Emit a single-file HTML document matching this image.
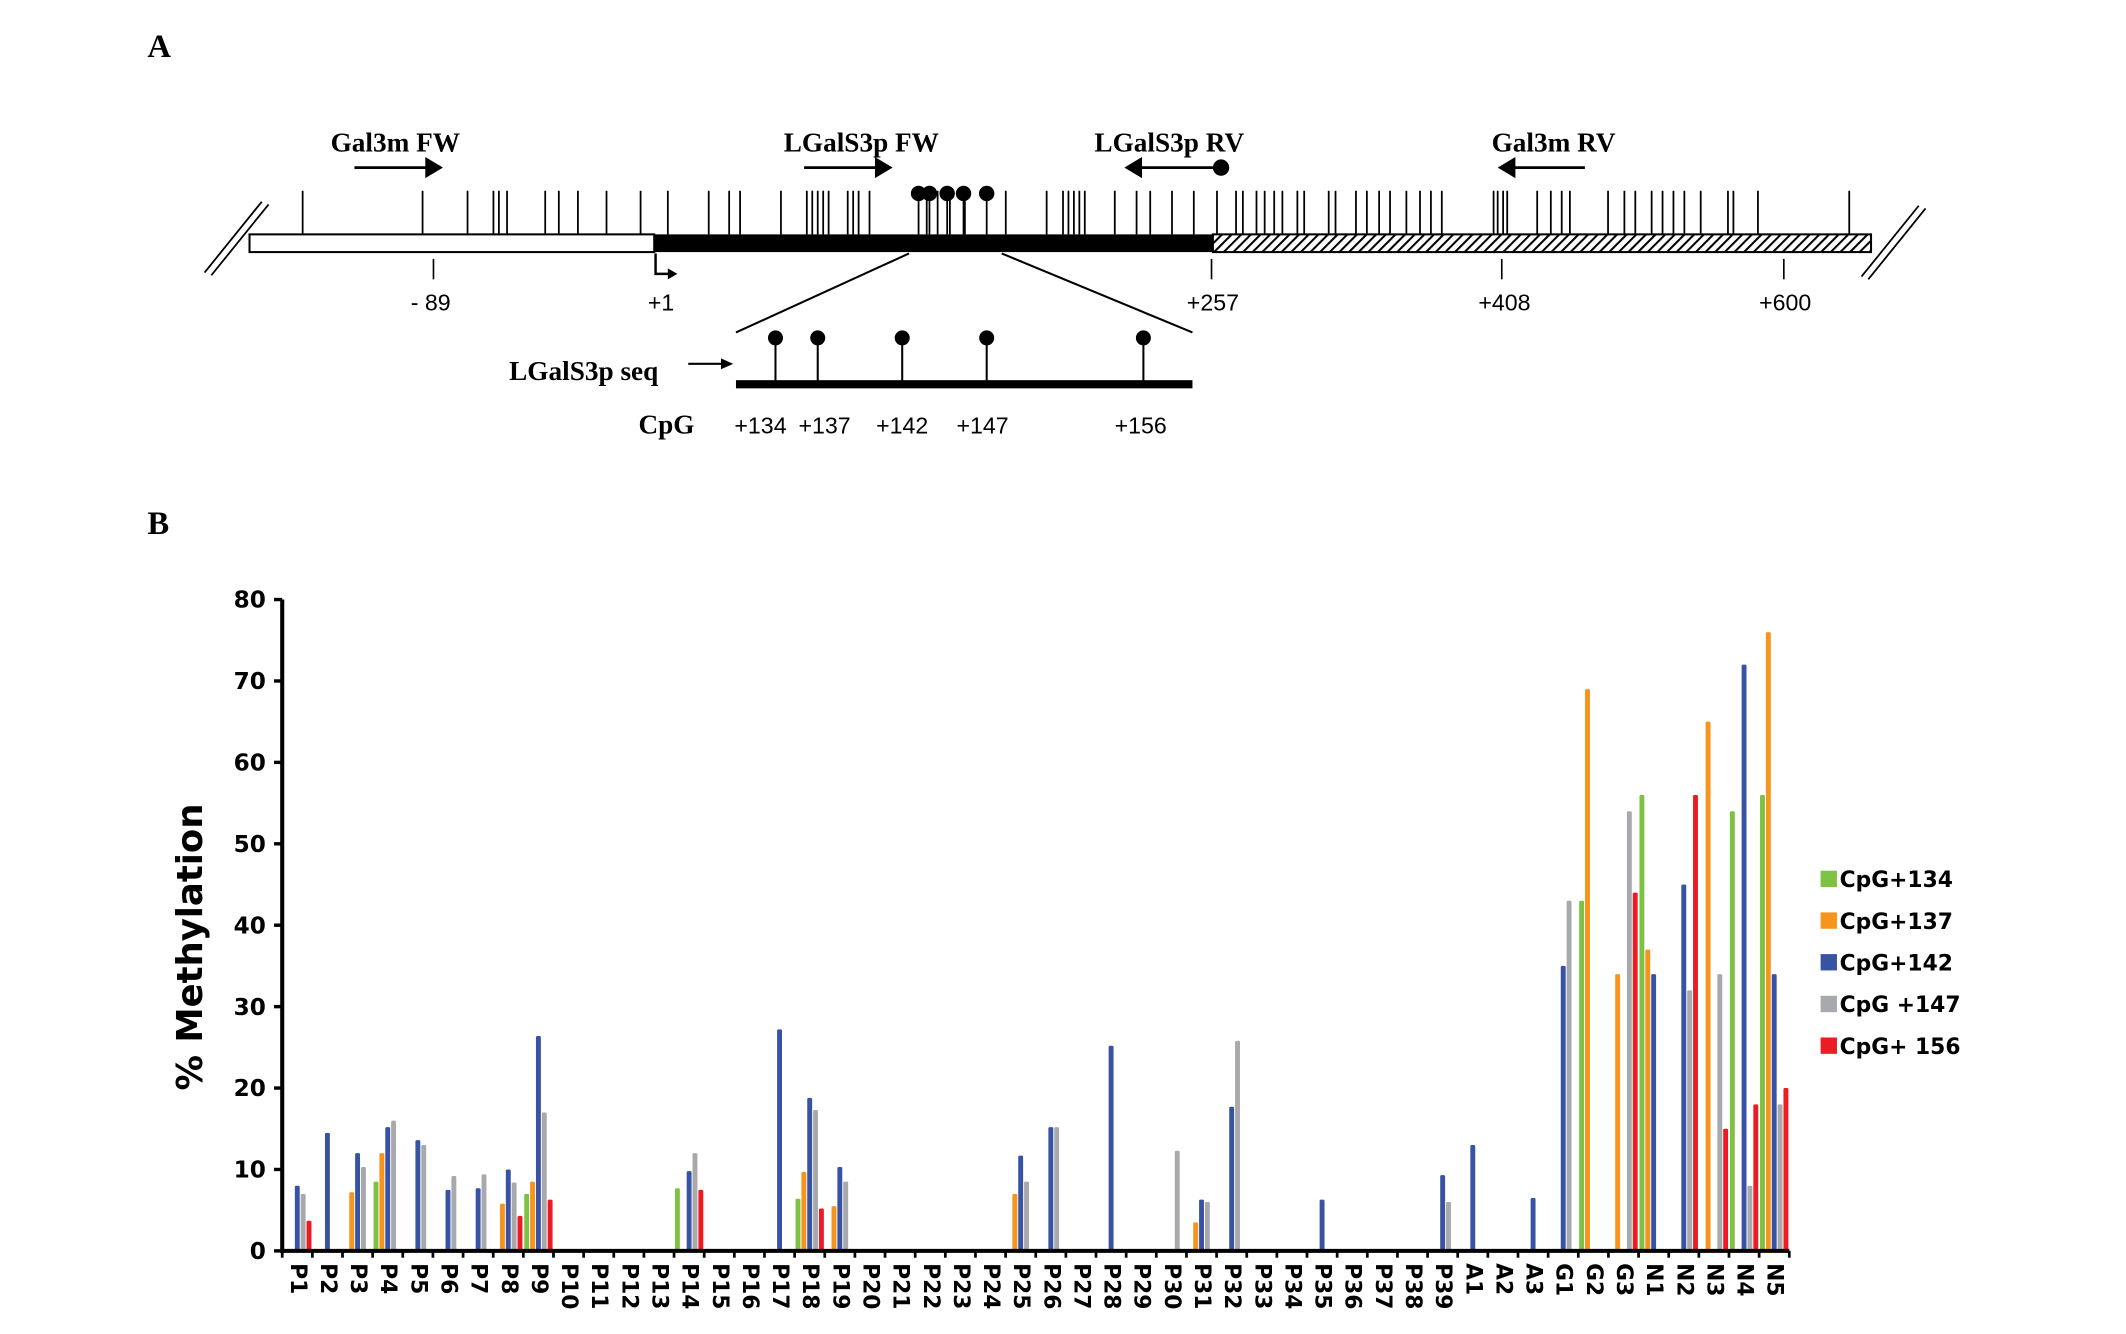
<!DOCTYPE html>
<html><head><meta charset="utf-8"><style>
html,body{margin:0;padding:0;background:#fff}
svg{display:block}
.serif{font-family:"Liberation Serif",serif;font-weight:bold}
.sans{font-family:"Liberation Sans",sans-serif}
.dj{font-family:"DejaVu Sans","Liberation Sans",sans-serif;font-weight:bold}
</style></head><body>
<svg id="fig" width="2126" height="1334" viewBox="0 0 1560 979" xmlns="http://www.w3.org/2000/svg">
<defs><pattern id="hatch" width="5" height="5" patternUnits="userSpaceOnUse" patternTransform="rotate(45)"><rect width="5" height="5" fill="#fff"/><line x1="0" y1="0" x2="0" y2="5" stroke="#000" stroke-width="3"/></pattern></defs>
<g id="panelA">
<text class="serif" x="108" y="42" font-size="24">A</text>
<text class="serif" x="290" y="111" font-size="20" text-anchor="middle">Gal3m FW</text>
<text class="serif" x="632" y="111" font-size="20" text-anchor="middle">LGalS3p FW</text>
<text class="serif" x="858" y="111" font-size="20" text-anchor="middle">LGalS3p RV</text>
<text class="serif" x="1140" y="111" font-size="20" text-anchor="middle">Gal3m RV</text>
<g stroke="#000" stroke-width="2" fill="#000">
<line x1="260" y1="123" x2="316" y2="123"/><polygon points="323,123 313,117 313,129"/>
<line x1="590" y1="123" x2="646" y2="123"/><polygon points="653,123 643,117 643,129"/>
<line x1="835" y1="123" x2="896" y2="123"/><polygon points="827,123 837,117 837,129"/><circle cx="896" cy="123" r="5"/>
<line x1="1110" y1="123" x2="1163" y2="123"/><polygon points="1101,123 1111,117 1111,129"/>
</g>
<g id="cpgTicks" stroke="#000" stroke-width="1.3"></g>
<rect x="183" y="172" width="297" height="13" fill="#fff" stroke="#000" stroke-width="1.5"/>
<rect x="480" y="172" width="410" height="13" fill="#000"/>
<rect x="890" y="172" width="483" height="13" fill="url(#hatch)" stroke="#000" stroke-width="1.5"/>
<g stroke="#000" stroke-width="1.3">
<line x1="150" y1="200" x2="192" y2="148"/><line x1="155" y1="202" x2="197" y2="150"/>
<line x1="1366" y1="203" x2="1408" y2="151"/><line x1="1371" y1="205" x2="1413" y2="153"/>
</g>
<g stroke="#000" stroke-width="1.2">
<line x1="318" y1="190" x2="318" y2="205"/><line x1="889" y1="190" x2="889" y2="205"/><line x1="1102" y1="190" x2="1102" y2="205"/><line x1="1309" y1="190" x2="1309" y2="205"/>
<polyline points="481,186 481,201 492,201" fill="none" stroke-width="1.8"/>
</g>
<polygon points="497,201 490,197 490,205" fill="#000"/>
<g class="sans" font-size="17" text-anchor="middle">
<text x="316" y="228">- 89</text><text x="485" y="228">+1</text><text x="890" y="228">+257</text><text x="1104" y="228">+408</text><text x="1310" y="228">+600</text>
</g>
<g stroke="#000" stroke-width="1.5"><line x1="667" y1="186" x2="540" y2="244"/><line x1="735" y1="186" x2="875" y2="244"/></g>
<rect x="540" y="279" width="335" height="6" fill="#000"/>
<g id="seqLolli"></g>
<text class="serif" x="483" y="279" font-size="20" text-anchor="end">LGalS3p seq</text>
<line x1="505" y1="267" x2="530" y2="267" stroke="#000" stroke-width="1.5"/><polygon points="538,267 529,263 529,271" fill="#000"/>
<text class="serif" x="489" y="318" font-size="20" text-anchor="middle">CpG</text>
<g class="sans" font-size="17" text-anchor="middle">
<text x="558" y="318">+134</text><text x="605" y="318">+137</text><text x="662" y="318">+142</text><text x="721" y="318">+147</text><text x="837" y="318">+156</text>
</g>
</g>
<text class="serif" x="108" y="392" font-size="24">B</text>
<g id="chart"></g>
</svg>
<script>
// Panel A CpG sites (map positions)
const cpgSites=[222,310,343,362,366,372,400,410,424,445,470,490,520,535,543,573,592,596,600,604,608,622,626,630,638,680,688,697,708,738,768,780,784,788,792,796,818,834,844,860,876,893,907,912,922,928,935,941,952,957,975,980,995,1003,1012,1020,1032,1042,1050,1058,1096,1099,1103,1106,1128,1138,1146,1152,1180,1192,1200,1212,1220,1228,1236,1248,1268,1272,1290,1357];
const lolliSites=[674,682,695,707,724];
const seqSites=[569,600,662,724,839];
const NS="http://www.w3.org/2000/svg";
function mk(tag,attrs,parent){const e=document.createElementNS(NS,tag);for(const k in attrs)e.setAttribute(k,attrs[k]);parent.appendChild(e);return e;}
const ct=document.getElementById('cpgTicks');
cpgSites.forEach(x=>{const l=mk('line',{x1:x,y1:140,x2:x,y2:172},ct);

});
lolliSites.forEach(x=>{mk('line',{x1:x,y1:142,x2:x,y2:172},ct);const c=mk('circle',{cx:x,cy:142,r:5,fill:'#000'},ct);

});
const sl=document.getElementById('seqLolli');
seqSites.forEach(x=>{mk('line',{x1:x,y1:248,x2:x,y2:280,stroke:'#000','stroke-width':1.5},sl);const c=mk('circle',{cx:x,cy:248,r:5.5,fill:'#000'},sl);

});

// Panel B data
const categories=[];for(let i=1;i<=39;i++)categories.push('P'+i);categories.push('A1','A2','A3','G1','G2','G3','N1','N2','N3','N4','N5');
const seriesNames=['CpG+134','CpG+137','CpG+142','CpG +147','CpG+ 156'];
const seriesColors=['#7dc242','#f7941d','#3953a4','#a7a9ac','#ed1c24'];
const cpg134=[0,0,0,8.5,0,0,0,0,7,0,0,0,0,7.7,0,0,0,6.4,0,0,0,0,0,0,0,0,0,0,0,0,0,0,0,0,0,0,0,0,0,0,0,0,0,43,0,56,0,0,54,56];
const cpg137=[0,0,7.2,12,0,0,0,5.8,8.5,0,0,0,0,0,0,0,0,9.7,5.5,0,0,0,0,0,7,0,0,0,0,0,3.5,0,0,0,0,0,0,0,0,0,0,0,0,69,34,37,0,65,0,76];
const cpg142=[8,14.5,12,15.2,13.6,7.5,7.7,10,26.4,0,0,0,0,9.8,0,0,27.2,18.8,10.3,0,0,0,0,0,11.7,15.2,0,25.2,0,0,6.3,17.7,0,0,6.3,0,0,0,9.3,13,0,6.5,35,0,0,34,45,0,72,34];
const cpg147=[7,0,10.3,16,13,9.2,9.4,8.4,17,0,0,0,0,12,0,0,0,17.3,8.5,0,0,0,0,0,8.5,15.2,0,0,0,12.3,6,25.8,0,0,0,0,0,0,6,0,0,0,43,0,54,0,32,34,8,18];
const cpg156=[3.7,0,0,0,0,0,0,4.3,6.3,0,0,0,0,7.5,0,0,0,5.2,0,0,0,0,0,0,0,0,0,0,0,0,0,0,0,0,0,0,0,0,0,0,0,0,0,0,44,0,56,15,18,20];
const series=[cpg134,cpg137,cpg142,cpg147,cpg156];
const yTicks=[0,10,20,30,40,50,60,70,80];

const X0=207,X1=1313,Y0=918,Y1=440,YMAX=80;
const cw=(X1-X0)/categories.length;
const yScale=v=>Y0-(v/YMAX)*(Y0-Y1);
const xScale=(c,i)=>X0+cw*(c+0.5)+(i-2)*4.3;
const ch=document.getElementById('chart');
// bars
series.forEach((vals,i)=>{vals.forEach((v,c)=>{if(v<=0)return;const y=yScale(v);
const r=mk('rect',{x:xScale(c,i)-1.8,y:y,width:3.6,height:Y0-y,fill:seriesColors[i],rx:1},ch);

});});
// axes
const ya=mk('line',{x1:X0,y1:Y1,x2:X0,y2:Y0+1.5,stroke:'#000','stroke-width':3},ch);


const xa=mk('line',{x1:X0-1.5,y1:Y0,x2:X1,y2:Y0,stroke:'#000','stroke-width':3},ch);


yTicks.forEach(t=>{const y=yScale(t);mk('line',{x1:X0-6,y1:y,x2:X0,y2:y,stroke:'#000','stroke-width':2.5},ch);
const tx=mk('text',{x:X0-12,y:y+6,'text-anchor':'end','font-size':17,class:'dj'},ch);tx.textContent=t;

});
for(let c=0;c<=categories.length;c++){const x=X0+cw*c;mk('line',{x1:x,y1:Y0,x2:x,y2:Y0+5,stroke:'#000','stroke-width':2},ch);}
categories.forEach((n,c)=>{const x=X0+cw*(c+0.5);
const t=mk('text',{x:x,y:927,transform:`rotate(90 ${x} 927)`,'font-size':16,class:'dj','dominant-baseline':'central'},ch);t.textContent=n;

});
const yt=mk('text',{x:148,y:695,transform:'rotate(-90 148 695)','text-anchor':'middle','font-size':26,class:'dj'},ch);yt.textContent='% Methylation';


// legend
seriesNames.forEach((n,i)=>{const y=645+i*30.6;
const g=mk('g',{},ch);


mk('rect',{x:1336,y:y-6,width:12,height:12,fill:seriesColors[i]},g);
const t=mk('text',{x:1350,y:y+6,'font-size':16,class:'dj'},g);t.textContent=n;});
</script>
</body></html>
